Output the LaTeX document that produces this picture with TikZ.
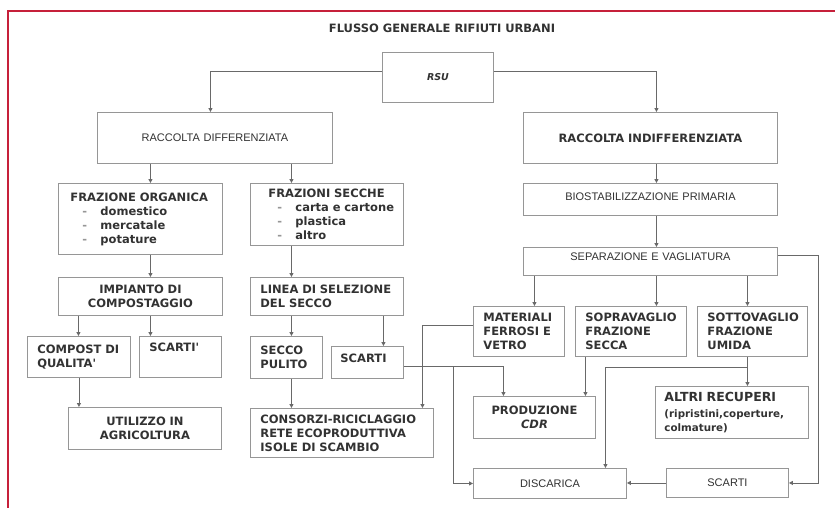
\documentclass[tikz,border=0pt]{standalone}
\usepackage{fontspec}
\newfontfamily\dvs{DejaVu Sans}
\newfontfamily\lib{Liberation Sans}
\usetikzlibrary{arrows.meta,calc}
\definecolor{framered}{RGB}{198,32,58}
\definecolor{txt}{RGB}{50,50,50}
\definecolor{bord}{RGB}{150,150,150}
\definecolor{conncol}{RGB}{105,105,105}
\newcommand{\bx}[7]{\node[box,text width=#4pt,minimum height=#5pt,#6] (#1) at (#2,#3) {#7};}
\newcommand{\itm}[2]{\hspace*{#1}\makebox[18pt][l]{\textcolor{bord}{-}}#2}
\begin{document}
\begin{tikzpicture}[x=1pt,y=-1pt,
  box/.style={draw=bord,line width=0.9pt,inner sep=0pt,text=txt,anchor=north west},
  bf/.style={font=\dvs\bfseries\fontsize{11.5}{14}\selectfont},
  rg/.style={font=\lib\fontsize{11}{14}\selectfont},
  lft/.style={align=left},
  ctr/.style={align=center},
  cn/.style={draw=conncol,line width=0.9pt,-{Triangle[length=4pt,width=4pt]}}]
\useasboundingbox (0,0) rectangle (835,507);
\fill[white] (0,0) rectangle (835,507);
\draw[framered,line width=2.6pt] (836,11) -- (8,11) -- (8,508);

\node[text=txt,font=\dvs\bfseries\fontsize{11.5}{14}\selectfont] (title) at (442,28) {FLUSSO GENERALE RIFIUTI URBANI};

\bx{rsu}{382}{52}{111}{50}{ctr,font=\dvs\bfseries\itshape\fontsize{9.5}{12}\selectfont}{RSU}
\bx{rd}{97}{112}{235}{51}{ctr,rg}{RACCOLTA DIFFERENZIATA}
\bx{ri}{523}{112}{254}{51}{ctr,bf}{RACCOLTA INDIFFERENZIATA}
\bx{bio}{523}{183}{254}{32}{ctr,rg,text height=17pt,text depth=15pt}{BIOSTABILIZZAZIONE PRIMARIA}
\bx{sep}{523}{247}{254}{28}{ctr,rg,text height=13pt,text depth=15pt}{SEPARAZIONE E VAGLIATURA}

\bx{fo}{58}{183}{164}{71}{lft,bf}{\leftskip=12pt FRAZIONE ORGANICA\\\itm{12pt}{domestico}\\\itm{12pt}{mercatale}\\\itm{12pt}{potature}\par}
\bx{fs}{250}{183}{153}{62}{lft,bf}{\leftskip=18pt FRAZIONI SECCHE\\\itm{9pt}{\mbox{carta e cartone}}\\\itm{9pt}{plastica}\\\itm{9pt}{altro}\par}

\bx{imp}{58}{277}{164}{38}{ctr,bf}{IMPIANTO DI\\COMPOSTAGGIO}
\bx{lin}{250}{277}{153}{38}{lft,bf}{\leftskip=10pt \mbox{LINEA DI SELEZIONE}\\DEL SECCO\par}

\bx{comp}{27}{336}{103}{41}{lft,bf}{\leftskip=10pt \mbox{COMPOST DI}\\QUALITA'\par}
\bx{sca}{139}{336}{82}{41}{lft,bf,text height=15pt,text depth=26pt}{\leftskip=10pt SCARTI'\par}
\bx{uti}{68}{407}{153}{42}{ctr,bf}{UTILIZZO IN\\AGRICOLTURA}

\bx{sp}{250}{336}{72}{42}{lft,bf}{\leftskip=10pt SECCO\\PULITO\par}
\bx{scb}{331}{346}{72}{32}{lft,bf,text height=16pt,text depth=16pt}{\leftskip=9pt SCARTI\par}
\bx{cons}{250}{408}{183}{49}{lft,bf}{\leftskip=10pt \mbox{CONSORZI-RICICLAGGIO}\\\mbox{RETE ECOPRODUTTIVA}\\ISOLE DI SCAMBIO\par}

\bx{mat}{473}{306}{91}{50}{lft,bf}{\leftskip=10pt MATERIALI\\\mbox{FERROSI E}\\VETRO\par}
\bx{sop}{575}{306}{111}{50}{lft,bf}{\leftskip=10pt SOPRAVAGLIO\\FRAZIONE\\SECCA\par}
\bx{sot}{697}{306}{110}{50}{lft,bf}{\leftskip=10pt SOTTOVAGLIO\\FRAZIONE\\UMIDA\par}

\bx{cdr}{473}{396}{122}{42}{ctr,bf}{PRODUZIONE\\\textit{CDR}}
\bx{alt}{655}{386}{153}{52}{lft,bf}{\leftskip=9pt {\fontsize{12.5}{14}\selectfont ALTRI RECUPERI}\\[2pt]{\fontsize{10.3}{14}\selectfont \mbox{(ripristini,coperture,}}\\{\fontsize{10.3}{14}\selectfont colmature)}\par}

\bx{dis}{473}{468}{153}{30}{ctr,rg}{DISCARICA}
\bx{scc}{666}{468}{122}{29}{ctr,rg}{SCARTI}

% connectors
\draw[cn] ([yshift=6pt]rsu.west) -| ([xshift=-4.5pt]rd.north);
\draw[cn] ([yshift=6pt]rsu.east) -| ([xshift=6pt]ri.north);
\draw[cn] ([xshift=-64.5pt]rd.south) -- ([xshift=-64.5pt]rd.south |- fo.north);
\draw[cn] ([xshift=76.5pt]rd.south) -- ([xshift=76.5pt]rd.south |- fs.north);
\draw[cn] ([xshift=6pt]ri.south) -- ([xshift=6pt]ri.south |- bio.north);
\draw[cn] ([xshift=6pt]bio.south) -- ([xshift=6pt]bio.south |- sep.north);
\draw[cn] ([xshift=-116pt]sep.south) -- ([xshift=-116pt]sep.south |- mat.north);
\draw[cn] ([xshift=6pt]sep.south) -- ([xshift=6pt]sep.south |- sop.north);
\draw[cn] ([xshift=97pt]sep.south) -- ([xshift=97pt]sep.south |- sot.north);
\draw[cn] ([yshift=6pt]sep.east) -- ++(41,0) |- (scc.east);

\draw[cn] ([xshift=10pt]fo.south) -- ([xshift=10pt]fo.south |- imp.north);
\draw[cn] ([xshift=-35.5pt]fs.south) -- ([xshift=-35.5pt]fs.south |- lin.north);
\draw[cn] ([xshift=-62pt]imp.south) -- ([xshift=-62pt]imp.south |- comp.north);
\draw[cn] ([xshift=10pt]imp.south) -- ([xshift=10pt]imp.south |- sca.north);
\draw[cn] (comp.south) -- (comp.south |- uti.north);
\draw[cn] ([xshift=-35.5pt]lin.south) -- ([xshift=-35.5pt]lin.south |- sp.north);
\draw[cn] ([xshift=56.5pt]lin.south) -- ([xshift=56.5pt]lin.south |- scb.north);
\draw[cn] ([xshift=5pt]sp.south) -- ([xshift=5pt]sp.south |- cons.north);

\draw[cn] ([yshift=-4pt]scb.east) -| ([xshift=-31pt]cdr.north);
\draw[cn] ([yshift=-4pt]scb.east) ++(50,0) |- (dis.west);
\draw[cn] ([yshift=6pt]mat.west) -| ([xshift=80.5pt]cons.north);
\draw[cn] ([xshift=-45.5pt]sop.south) -- ([xshift=-45.5pt]sop.south |- cdr.north);
\draw[cn] ([xshift=-5pt]sot.south) -- ([xshift=-5pt]sot.south |- alt.north);
\draw[cn] ([xshift=-5pt,yshift=-11pt]sot.south) -| ([xshift=55.5pt]dis.north);
\draw[cn] (scc.west) -- (scc.west -| dis.east);
\end{tikzpicture}
\end{document}
